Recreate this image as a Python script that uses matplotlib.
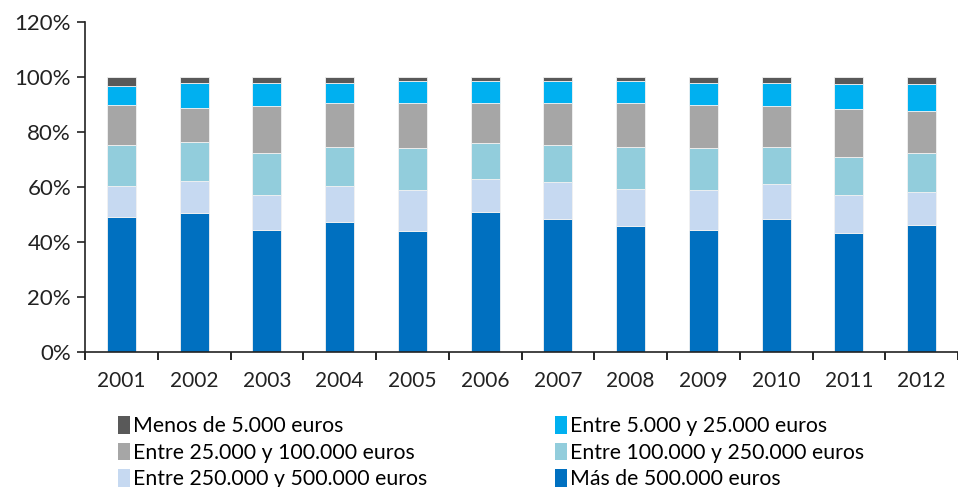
import matplotlib.pyplot as plt
import numpy as np
from matplotlib.ticker import PercentFormatter
from matplotlib.patches import Patch

plt.rcParams['font.family'] = ['Lato', 'DejaVu Sans']

years = ['2001', '2002', '2003', '2004', '2005', '2006',
         '2007', '2008', '2009', '2010', '2011', '2012']

# share of each band, in percent (bottom to top of each bar)
mas_500k = [49.2, 50.7, 44.5, 47.3, 44.0, 50.8, 48.5, 45.7, 44.5, 48.5, 43.4, 46.3]
e250_500k = [11.3, 11.5, 12.6, 13.2, 14.9, 12.0, 13.2, 13.7, 14.4, 12.6, 13.7, 11.9]
e100_250k = [14.7, 14.1, 15.2, 14.1, 15.3, 13.1, 13.6, 15.2, 15.2, 13.5, 13.7, 14.2]
e25_100k = [14.7, 12.6, 17.1, 16.0, 16.4, 14.7, 15.3, 16.0, 15.9, 14.8, 17.6, 15.3]
e5_25k = [6.9, 9.0, 8.5, 7.4, 8.0, 8.0, 8.0, 8.0, 8.0, 8.6, 9.0, 9.7]
menos_5k = [3.2, 2.1, 2.1, 2.0, 1.4, 1.4, 1.4, 1.4, 2.0, 2.0, 2.6, 2.6]

series = [
    ('Más de 500.000 euros', mas_500k, '#0070C0'),
    ('Entre 250.000 y 500.000 euros', e250_500k, '#C6D9F1'),
    ('Entre 100.000 y 250.000 euros', e100_250k, '#92CDDC'),
    ('Entre 25.000 y 100.000 euros', e25_100k, '#A6A6A6'),
    ('Entre 5.000 y 25.000 euros', e5_25k, '#00B0F0'),
    ('Menos de 5.000 euros', menos_5k, '#595959'),
]

fig = plt.figure(figsize=(9.58, 4.87), dpi=100)
ax = fig.add_axes([85/958, 1-352/487, 1-85/958, (352-22)/487])

x = np.arange(len(years))
bottom = np.zeros(len(years))
colors = {}
for name, vals, col in series:
    ax.bar(x, vals, width=0.4, bottom=bottom, color=col,
           edgecolor='#f2f2f2', linewidth=0.6)
    bottom += np.array(vals)
    colors[name] = col

ax.set_ylim(0, 120)
ax.set_xlim(-0.5, len(years) - 0.5)
ax.set_yticks(np.arange(0, 121, 20))
ax.yaxis.set_major_formatter(PercentFormatter(decimals=0))
ax.set_xticks(x)
ax.set_xticklabels(years)
ax.set_xticks(np.arange(-0.5, len(years), 1), minor=True)
ax.tick_params(axis='x', which='major', length=0, pad=14, labelsize=15, colors='#222222')
ax.tick_params(axis='x', which='minor', length=6, width=1.2, direction='out')
ax.tick_params(axis='y', length=6, width=1.2, labelsize=16, colors='#222222', pad=4)
for s in ['top', 'right']:
    ax.spines[s].set_visible(False)
for s in ['left', 'bottom']:
    ax.spines[s].set_linewidth(1.2)
    ax.spines[s].set_color('#222222')

col1 = ['Menos de 5.000 euros', 'Entre 25.000 y 100.000 euros', 'Entre 250.000 y 500.000 euros']
col2 = ['Entre 5.000 y 25.000 euros', 'Entre 100.000 y 250.000 euros', 'Más de 500.000 euros']
for names, xpos in [(col1, 118/958), (col2, 555/958)]:
    handles = [Patch(facecolor=colors[n], edgecolor='none') for n in names]
    fig.legend(handles, names, loc='upper left', bbox_to_anchor=(xpos, 1-416/487),
               frameon=False, fontsize=15.3, handlelength=0.55, handleheight=0.9,
               handletextpad=0.15, labelspacing=0.3, borderpad=0, borderaxespad=0)

fig.savefig('out.png', dpi=100)
